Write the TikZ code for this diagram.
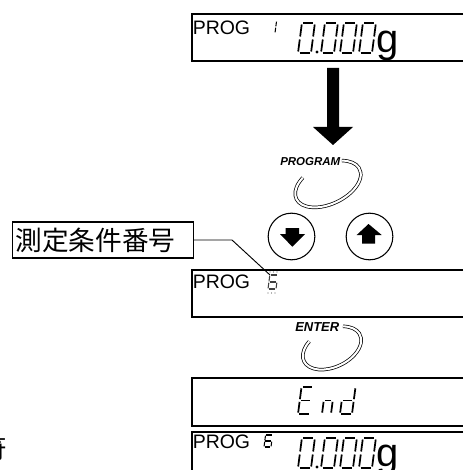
\documentclass[tikz,border=0pt]{standalone}
\usepackage{fontspec}
\usepackage{graphicx}
\setmainfont{Liberation Sans}
\newfontfamily\cjk{Noto Sans CJK JP}
\def\sega{(\sgG,-\sgH) -- (\sgW-\sgG,-\sgH)}
\def\segb{(\sgW,-\sgH+\sgG) -- (\sgW,-\sgHH-\sgG)}
\def\segc{(\sgW,-\sgHH+\sgG) -- (\sgW,-\sgG)}
\def\segd{(\sgG,0) -- (\sgW-\sgG,0)}
\def\sege{(0,-\sgG) -- (0,-\sgHH+\sgG)}
\def\segf{(0,-\sgHH-\sgG) -- (0,-\sgH+\sgG)}
\def\segg{(\sgG,-\sgHH) -- (\sgW-\sgG,-\sgHH)}
\newcommand\SegDraw[2]{\draw[#2] #1;}
\newcommand\SevSeg[6]{%
  \begin{scope}[shift={(#1,#2)},xslant=0.13]
  \pgfmathsetmacro\sgW{#3}\pgfmathsetmacro\sgH{#4}%
  \pgfmathsetmacro\sgHH{#4/2}\pgfmathsetmacro\sgG{#4*0.05}%
  \foreach \s in {#5}{\expandafter\SegDraw\csname seg\s\endcsname{#6}}
  \end{scope}}
\newcommand\ProgTxt{\resizebox{43pt}{!}{PROG}}
\begin{document}
\begin{tikzpicture}[x=0.75pt,y=-0.75pt,
  box/.style={line width=1pt},
  segline/.style={line width=1.3pt},
  segthin/.style={line width=0.8pt},
  ring/.style={double, line width=0.55pt, double distance=1.5pt},
  keylbl/.style={font=\bfseries\itshape, inner sep=0, anchor=base west},
  prog/.style={inner sep=0, anchor=base west},
  gram/.style={font=\fontsize{30}{30}\selectfont, inner sep=0, anchor=base west},
  btn/.style={circle, draw, line width=0.8pt, minimum size=35pt, inner sep=0},
  blk/.style={fill=black, draw=none},
]
\useasboundingbox (0,0) rectangle (463,470);

% ---- display boxes (open at the right edge)
\draw[box] (463,14) -- (192,14) -- (192,61) -- (463,61);
\draw[box] (463,270) -- (192,270) -- (192,317) -- (463,317);
\draw[box] (463,378) -- (192,378) -- (192,426) -- (463,426);
\draw[box] (463,432) -- (192,432) -- (192,472);

% ---- top display: PROG 1 0.000g
\node[prog] (p1) at (192.5,35) {\ProgTxt};
\SevSeg{268}{33}{7}{12}{b,c}{segthin}
\SevSeg{298}{53}{13}{30}{a,b,c,d,e,f}{segline}
\fill (317,52) circle (1.6);
\SevSeg{321}{53}{13}{30}{a,b,c,d,e,f}{segline}
\SevSeg{340}{53}{13}{30}{a,b,c,d,e,f}{segline}
\SevSeg{359}{53}{13}{30}{a,b,c,d,e,f}{segline}
\node[gram] (g1) at (376,53) {g};

% ---- big arrow
\fill[blk] (327,68) -- (339,68) -- (339,127) -- (353,127) -- (333,145) -- (313,127) -- (327,127) -- cycle;

% ---- PROGRAM key
\node[keylbl] (pk) at (280,166) {\resizebox{45pt}{!}{PROGRAM}};
\begin{scope}[shift={(328,184)},rotate=25]
  \draw[ring] (-125:35 and 20) arc[start angle=-125, end angle=-410, x radius=35, y radius=20];
\end{scope}

% ---- arrow buttons
\node[btn] (dn) at (291.5,236.5) {};
\node[btn] (up) at (369.5,236.5) {};
\fill[blk] (285.7,228) -- (299,228) -- (299,234) -- (305,234) -- (292.3,246.7) -- (280,234) -- (285.7,234) -- cycle;
\fill[blk] (368.5,224) -- (381.7,235) -- (375,235) -- (375,243.5) -- (362,243.5) -- (362,235) -- (356.7,235) -- cycle;

% ---- label
\node[draw, line width=0.8pt, anchor=west, text width=131.25pt, align=left,
      inner xsep=2.25pt, minimum height=27pt,
      font=\cjk\fontsize{20}{20}\selectfont] (lab) at (12,240) {測定条件番号};
\coordinate (bend) at (232,240);
\coordinate (six) at (270,275);
\draw[line width=0.7pt] (lab.east) -- (bend) -- (six);

% ---- second display: PROG 6 (blinking)
\node[prog] (p2) at (192.5,288) {\ProgTxt};
\SevSeg{268}{289}{8}{14}{a,c,d,e,f,g}{segthin,black!75}
\foreach \xx in {270,273.5,277} {\fill[black!60] (\xx,272) circle (0.6);}
\foreach \xx in {268,271.5,275} {\fill[black!60] (\xx,293) circle (0.6);}

% ---- ENTER key
\node[keylbl] (ek) at (295,331) {\resizebox{33pt}{!}{ENTER}};
\begin{scope}[shift={(332,348)},rotate=25]
  \draw[ring] (-125:31 and 19) arc[start angle=-125, end angle=-412, x radius=31, y radius=19];
\end{scope}

% ---- End display
\SevSeg{298}{414}{12}{27}{a,d,e,f,g}{segline}
\SevSeg{322}{414}{9}{27}{c,e,g}{segline}
\SevSeg{340}{414}{12}{27}{b,c,d,e,g}{segline}

% ---- bottom display: PROG 6 0.000g
\node[prog] (p3) at (192.5,448) {\ProgTxt};
\SevSeg{264}{447}{7}{12}{a,c,d,e,f,g}{segthin}
\SevSeg{298}{468}{13}{30}{a,b,c,d,e,f}{segline}
\fill (317,467) circle (1.6);
\SevSeg{321}{468}{13}{30}{a,b,c,d,e,f}{segline}
\SevSeg{340}{468}{13}{30}{a,b,c,d,e,f}{segline}
\SevSeg{359}{468}{13}{30}{a,b,c,d,e,f}{segline}
\node[gram] (g3) at (376,466) {g};

% ---- cut-off character at the left edge
\node[font=\cjk\fontsize{20}{20}\selectfont, anchor=east, inner sep=0] (cut) at (7,448) {符};
\end{tikzpicture}
\end{document}
